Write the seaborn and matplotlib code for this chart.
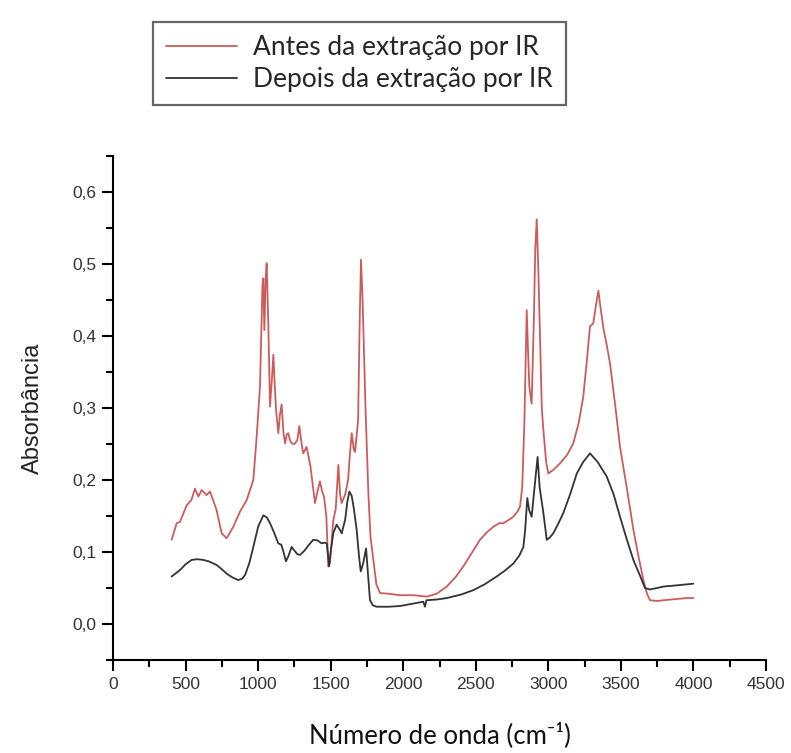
import matplotlib
matplotlib.use("Agg")
import matplotlib.pyplot as plt
import seaborn as sns
import pandas as pd
from matplotlib.ticker import MultipleLocator

# ---- data ----
antes_x = [404, 439, 462, 508, 540, 565, 588, 611, 645, 668, 690, 714, 749, 783, 829, 875, 921, 967,
           990, 1013, 1030, 1036, 1043, 1052, 1059, 1070, 1082, 1095, 1105, 1115, 1124, 1139, 1150,
           1162, 1175, 1186, 1197, 1208, 1220, 1231, 1250, 1270, 1284, 1300, 1311, 1334, 1360, 1392,
           1410, 1426, 1440, 1454, 1470, 1484, 1495, 1518, 1535, 1553, 1565, 1576, 1600, 1620, 1633,
           1645, 1660, 1668, 1689, 1700, 1709, 1720, 1740, 1760, 1775, 1794, 1815, 1840, 1900, 1978,
           2070, 2162, 2230, 2300, 2360, 2414, 2470, 2529, 2580, 2621, 2660, 2690, 2730, 2759, 2790,
           2805, 2820, 2835, 2851, 2860, 2869, 2885, 2900, 2910, 2920, 2930, 2945, 2955, 2966, 2985,
           3000, 3040, 3080, 3130, 3172, 3210, 3241, 3265, 3287, 3310, 3330, 3345, 3356, 3380, 3400,
           3425, 3460, 3494, 3540, 3586, 3620, 3655, 3680, 3701, 3750, 3793, 3850, 3900, 3950, 3999]
antes_y = [0.117, 0.140, 0.142, 0.165, 0.172, 0.188, 0.177, 0.186, 0.179, 0.184, 0.172, 0.158, 0.126,
           0.119, 0.135, 0.156, 0.172, 0.200, 0.260, 0.330, 0.470, 0.480, 0.408, 0.480, 0.501, 0.420,
           0.302, 0.340, 0.374, 0.330, 0.297, 0.265, 0.290, 0.305, 0.265, 0.251, 0.263, 0.265, 0.255,
           0.251, 0.250, 0.255, 0.275, 0.250, 0.237, 0.246, 0.220, 0.168, 0.185, 0.198, 0.185, 0.177,
           0.150, 0.080, 0.085, 0.144, 0.160, 0.221, 0.180, 0.168, 0.180, 0.200, 0.237, 0.265, 0.242,
           0.239, 0.283, 0.420, 0.506, 0.450, 0.300, 0.180, 0.120, 0.089, 0.055, 0.043, 0.042, 0.040,
           0.040, 0.038, 0.042, 0.052, 0.065, 0.080, 0.098, 0.117, 0.128, 0.135, 0.140, 0.140, 0.145,
           0.149, 0.157, 0.163, 0.190, 0.280, 0.436, 0.380, 0.330, 0.306, 0.420, 0.520, 0.562, 0.500,
           0.380, 0.300, 0.269, 0.225, 0.209, 0.215, 0.223, 0.235, 0.251, 0.280, 0.316, 0.365, 0.413,
           0.418, 0.445, 0.463, 0.445, 0.410, 0.390, 0.362, 0.305, 0.246, 0.190, 0.131, 0.095, 0.061,
           0.042, 0.033, 0.032, 0.033, 0.034, 0.035, 0.036, 0.036]

depois_x = [404, 430, 462, 500, 542, 580, 622, 660, 714, 750, 783, 820, 863, 890, 910, 940, 967, 1000,
            1036, 1060, 1082, 1110, 1139, 1160, 1175, 1192, 1210, 1231, 1250, 1270, 1289, 1320, 1350,
            1380, 1410, 1438, 1460, 1473, 1482, 1489, 1500, 1518, 1541, 1560, 1576, 1600, 1615, 1629,
            1645, 1660, 1679, 1695, 1707, 1725, 1744, 1755, 1771, 1790, 1817, 1900, 1978, 2060, 2138,
            2150, 2160, 2230, 2300, 2400, 2483, 2560, 2644, 2700, 2759, 2800, 2828, 2840, 2855, 2868,
            2885, 2905, 2926, 2940, 2966, 2989, 3010, 3034, 3070, 3103, 3150, 3196, 3240, 3287, 3340,
            3402, 3450, 3494, 3540, 3586, 3630, 3666, 3700, 3750, 3793, 3850, 3900, 3950, 3999]
depois_y = [0.066, 0.070, 0.075, 0.083, 0.089, 0.090, 0.089, 0.087, 0.082, 0.076, 0.070, 0.065, 0.061,
            0.063, 0.068, 0.085, 0.107, 0.135, 0.151, 0.148, 0.140, 0.127, 0.112, 0.110, 0.100, 0.087,
            0.095, 0.107, 0.102, 0.097, 0.096, 0.102, 0.110, 0.117, 0.116, 0.112, 0.113, 0.112, 0.095,
            0.080, 0.100, 0.126, 0.138, 0.132, 0.126, 0.145, 0.170, 0.184, 0.178, 0.160, 0.131, 0.095,
            0.073, 0.085, 0.105, 0.075, 0.033, 0.026, 0.024, 0.024, 0.025, 0.028, 0.031, 0.024, 0.033,
            0.034, 0.036, 0.041, 0.047, 0.055, 0.066, 0.074, 0.084, 0.095, 0.107, 0.130, 0.175, 0.158,
            0.149, 0.190, 0.232, 0.190, 0.154, 0.117, 0.120, 0.126, 0.140, 0.154, 0.180, 0.209, 0.225,
            0.237, 0.225, 0.205, 0.180, 0.149, 0.118, 0.089, 0.068, 0.050, 0.048, 0.050, 0.052, 0.053,
            0.054, 0.055, 0.056]

series_names = ["Antes da extração por IR", "Depois da extração por IR"]
x_ticks = [0, 500, 1000, 1500, 2000, 2500, 3000, 3500, 4000, 4500]
y_ticks = [0.0, 0.1, 0.2, 0.3, 0.4, 0.5, 0.6]
y_tick_labels = ["0,0", "0,1", "0,2", "0,3", "0,4", "0,5", "0,6"]

df = pd.concat([
    pd.DataFrame({"x": antes_x, "y": antes_y, "serie": series_names[0]}),
    pd.DataFrame({"x": depois_x, "y": depois_y, "serie": series_names[1]}),
], ignore_index=True)

# ---- style ----
sns.set_style("white")
plt.rcParams["font.family"] = ["Liberation Sans", "DejaVu Sans"]

fig = plt.figure(figsize=(7.91, 7.53), dpi=100)
ax = fig.add_axes([113 / 791, 1 - 660 / 753, (766 - 113) / 791, (660 - 156) / 753])

palette = {series_names[0]: "#cc5c5c", series_names[1]: "#333333"}
sns.lineplot(data=df, x="x", y="y", hue="serie", palette=palette, estimator=None,
             sort=False, legend=False, linewidth=1.3, ax=ax)

ax.set_xlim(0, 4500)
ax.set_ylim(-0.05, 0.65)
ax.set_xticks(x_ticks)
ax.set_xticklabels([str(v) for v in x_ticks])
ax.set_yticks(y_ticks)
ax.set_yticklabels(y_tick_labels)
ax.xaxis.set_minor_locator(MultipleLocator(250))
ax.yaxis.set_minor_locator(MultipleLocator(0.05))

for s in ["top", "right"]:
    ax.spines[s].set_visible(False)
for s in ["left", "bottom"]:
    ax.spines[s].set_color("black")
    ax.spines[s].set_linewidth(1.5)

ax.tick_params(which="major", direction="out", length=8, width=1.5, color="black",
               labelsize=12.5, labelcolor="#333333", left=True, bottom=True, pad=4)
ax.tick_params(which="minor", direction="out", length=5, width=1.5, color="black",
               left=True, bottom=True)

ax.set_xlabel("Número de onda (cm⁻¹)", fontsize=18.5, family=["Lato", "DejaVu Sans"],
              labelpad=22, color="#111111")
ax.set_ylabel("Absorbância", fontsize=17, labelpad=20, color="#222222")

handles = ax.get_lines()[:2]
leg = fig.legend(handles, series_names, loc="upper left",
                 bbox_to_anchor=(153 / 791, 1 - 22 / 753), borderaxespad=0,
                 frameon=True, fancybox=False, framealpha=1, edgecolor="#666666",
                 prop={"family": ["Lato", "DejaVu Sans"], "size": 19},
                 handlelength=2.7, handletextpad=0.6, borderpad=0.5, labelspacing=0.25)
leg.get_frame().set_linewidth(1.6)

fig.savefig("out.png", dpi=100)
